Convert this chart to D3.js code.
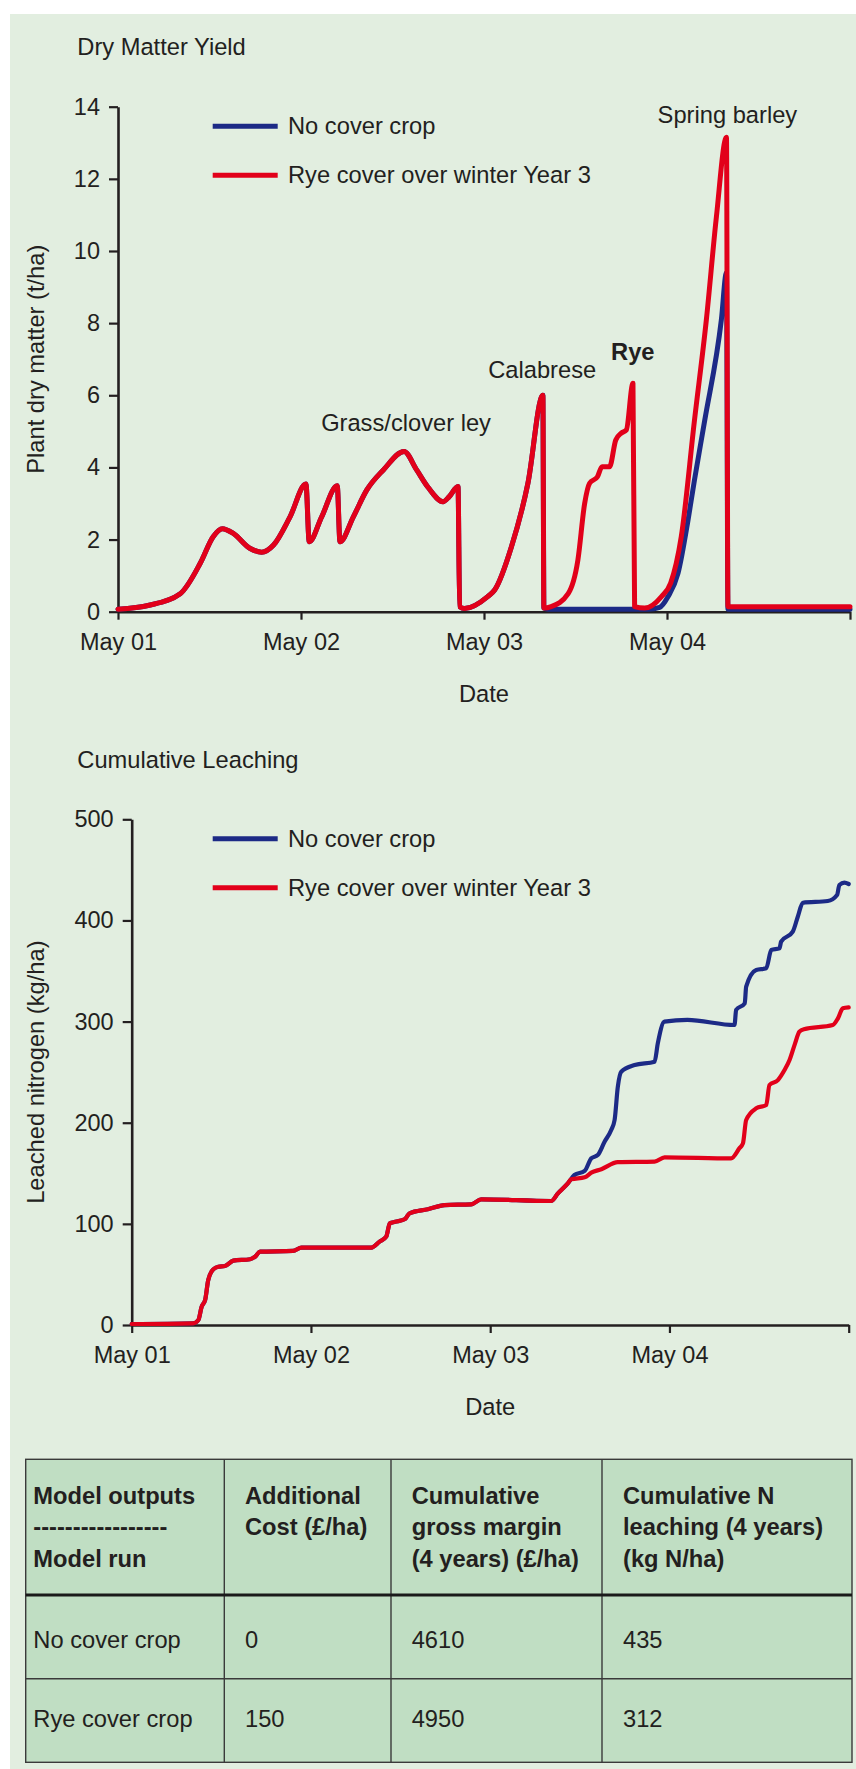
<!DOCTYPE html>
<html>
<head>
<meta charset="utf-8">
<script src="https://cdn.jsdelivr.net/npm/d3@7"></script>
<style>
    body { margin: 0; background: #fff; }
    svg text { font-family: "Liberation Sans", Arial, sans-serif; fill: #231f20; font-size: 23.7px; }
    .axis path, .axis line { stroke: #231f20; }
    .axis text { font-size: 23.5px; fill: #231f20; }
</style>
</head>
<body>
<div id="page"></div>
<script>
    // ---- data ----
    const xTickValues = [0, 1, 2, 3, 4];
    const xTickLabels = ["May 01", "May 02", "May 03", "May 04", ""];
    const seriesNames = ["No cover crop", "Rye cover over winter Year 3"];
    const seriesColors = ["#1c2a86", "#e2001a"];

    // dry matter yield (t/ha) as [years after May 01, value]
    const dmTicks = [0, 2, 4, 6, 8, 10, 12, 14];
    const dmShared = [
        [0, 0.07], [0.17, 0.18], [0.34, 0.5], [0.45, 1.35], [0.52, 2.08], [0.57, 2.3], [0.63, 2.17],
        [0.72, 1.76], [0.785, 1.65], [0.85, 1.85], [0.94, 2.63], [1.027, 3.54], [1.045, 1.94],
        [1.113, 2.63], [1.198, 3.49], [1.213, 1.94], [1.286, 2.63], [1.359, 3.37], [1.45, 3.93],
        [1.563, 4.44], [1.632, 3.93], [1.694, 3.45], [1.776, 3.05], [1.81, 3.19], [1.858, 3.47],
        [1.867, 0.14], [1.894, 0.09], [2.02, 0.42], [2.058, 0.6], [2.15, 1.8], [2.24, 3.56],
        [2.322, 6.0], [2.327, 0.1]
    ];
    const dmNoCoverTail = [
        [2.35, 0.07], [2.9, 0.07], [2.96, 0.12], [3.006, 0.42], [3.06, 1.06], [3.115, 2.54],
        [3.15, 3.65], [3.206, 5.3], [3.297, 8.09], [3.325, 9.4], [3.333, 0.07], [4.0, 0.07]
    ];
    const dmRyeTail = [
        [2.367, 0.14], [2.46, 0.5], [2.513, 1.43], [2.55, 3.0], [2.577, 3.56], [2.62, 3.74],
        [2.645, 4.02], [2.686, 4.02], [2.72, 4.76], [2.75, 4.95], [2.778, 5.04], [2.814, 6.33],
        [2.823, 0.14], [2.878, 0.1], [2.97, 0.42], [3.02, 0.79], [3.078, 2.08], [3.15, 5.3],
        [3.215, 8.09], [3.27, 10.95], [3.325, 13.15], [3.333, 0.14], [4.0, 0.14]
    ];
    const dmNoCover = dmShared.concat(dmNoCoverTail);
    const dmRye = dmShared.concat(dmRyeTail);
    const dmNotes = [
        {text: "Grass/clover ley", t: 1.574, v: 5.01, bold: false},
        {text: "Calabrese", t: 2.318, v: 6.47, bold: false},
        {text: "Rye", t: 2.813, v: 6.98, bold: true},
        {text: "Spring barley", t: 3.33, v: 13.56, bold: false}
    ];

    // cumulative leached nitrogen (kg/ha)
    const lchTicks = [0, 100, 200, 300, 400, 500];
    const lchShared = [
        [0, 1], [0.343, 1.7], [0.372, 5], [0.39, 18], [0.41, 25], [0.427, 44.5], [0.455, 55],
        [0.483, 57.6], [0.52, 58.3], [0.567, 63.6], [0.66, 65], [0.688, 67.5], [0.716, 72.5],
        [0.9, 73.2], [0.947, 76.5], [1.337, 76.5], [1.383, 82.4], [1.42, 87.3], [1.44, 100.5],
        [1.47, 102], [1.525, 104.8], [1.55, 110.4], [1.652, 114.4], [1.746, 118.6], [1.894, 119.3],
        [1.95, 124.3], [2.34, 122.6], [2.378, 130.2], [2.433, 140]
    ];
    const lchNoCoverTail = [
        [2.47, 148.3], [2.527, 152.3], [2.564, 164.8], [2.6, 168], [2.638, 181.2], [2.675, 192.8],
        [2.694, 202.7], [2.712, 235.6], [2.731, 250.4], [2.806, 257], [2.917, 260.3], [2.935, 278.5],
        [2.972, 299.9], [3.1, 301.6], [3.363, 296.6], [3.372, 311.5], [3.42, 318], [3.428, 334.5],
        [3.484, 351], [3.54, 352.7], [3.568, 370.8], [3.614, 372.5], [3.623, 379], [3.688, 388.9],
        [3.716, 403.7], [3.744, 417.5], [3.883, 419.2], [3.935, 425.2], [3.948, 435], [3.976, 437.3],
        [4.0, 436]
    ];
    const lchRyeTail = [
        [2.452, 144], [2.527, 146], [2.564, 150.6], [2.62, 154], [2.712, 161], [2.917, 161.5],
        [2.973, 165.8], [3.344, 164.8], [3.39, 174.7], [3.41, 179.6], [3.428, 202.7], [3.484, 214.2],
        [3.54, 217.5], [3.558, 237.3], [3.605, 242.2], [3.642, 252.1], [3.67, 262], [3.7, 278],
        [3.725, 290], [3.75, 292.5], [3.911, 296.6], [3.94, 303.2], [3.967, 313.1], [4.0, 314]
    ];
    const lchNoCover = lchShared.concat(lchNoCoverTail);
    const lchRye = lchShared.concat(lchRyeTail);

    // table
    const tableHeader = [
        ["Model outputs", "-----------------", "Model run"],
        ["Additional", "Cost (£/ha)"],
        ["Cumulative", "gross margin", "(4 years) (£/ha)"],
        ["Cumulative N", "leaching (4 years)", "(kg N/ha)"]
    ];
    const tableRows = [
        ["No cover crop", "0", "4610", "435"],
        ["Rye cover crop", "150", "4950", "312"]
    ];

    // ---- page ----
    let svg = d3.select("#page")
        .append("svg")
        .attr("width", 856)
        .attr("height", 1769);

    svg.append("rect")
        .attr("x", 10)
        .attr("y", 14)
        .attr("width", 846)
        .attr("height", 1755)
        .style("fill", "#e2eee0");

    function drawChart(c){
        let g = svg.append("g")
            .attr("transform", `translate(${c.left}, ${c.top})`);

        let x = d3.scaleLinear()
            .domain([0, 4])
            .range([0, c.width]);

        let y = d3.scaleLinear()
            .domain([0, c.yMax])
            .range([c.height, 0]);

        svg.append("text")
            .attr("x", 77.3)
            .attr("y", c.titleY)
            .text(c.title);

        // axes
        g.append("g")
            .attr("class", "axis")
            .attr("transform", `translate(0, ${c.height})`)
            .call(d3.axisBottom(x)
                .tickValues(xTickValues)
                .tickFormat((d, i) => xTickLabels[i])
                .tickSize(8)
                .tickSizeOuter(0)
                .tickPadding(13.5))
            .call(a => a.select(".domain").attr("stroke-width", 2.6))
            .call(a => a.selectAll(".tick line").attr("stroke-width", 2.2))
            .call(a => a.selectAll(".tick text").attr("font-family", null).attr("font-size", null));

        g.append("g")
            .attr("class", "axis")
            .call(d3.axisLeft(y)
                .tickValues(c.yTicks)
                .tickSize(9)
                .tickSizeOuter(0)
                .tickPadding(9))
            .call(a => a.select(".domain").attr("stroke-width", 2.6))
            .call(a => a.selectAll(".tick line").attr("stroke-width", 2.2))
            .call(a => a.selectAll(".tick text").attr("font-family", null).attr("font-size", null));

        // axis titles
        g.append("text")
            .attr("x", c.width / 2)
            .attr("y", c.height + 90)
            .attr("text-anchor", "middle")
            .text("Date");

        svg.append("text")
            .attr("transform", `translate(43.5, ${c.top + c.height / 2}) rotate(-90)`)
            .attr("text-anchor", "middle")
            .text(c.yLabel);

        // lines
        let line = d3.line()
            .x(d => x(d[0]))
            .y(d => y(d[1]))
            .curve(d3.curveMonotoneX);

        c.series.forEach((s, i) => {
            g.append("path")
                .datum(s)
                .attr("d", line)
                .style("fill", "none")
                .style("stroke", seriesColors[i])
                .style("stroke-width", c.strokeWidth)
                .style("stroke-linejoin", "round")
                .style("stroke-linecap", "round");
        });

        // legend
        seriesNames.forEach((name, i) => {
            let ly = c.top + 19.5 + i * 49;
            svg.append("line")
                .attr("x1", 212.7)
                .attr("x2", 277.7)
                .attr("y1", ly)
                .attr("y2", ly)
                .style("stroke", seriesColors[i])
                .style("stroke-width", 5);
            svg.append("text")
                .attr("x", 288)
                .attr("y", ly + 7.8)
                .text(name);
        });

        // crop labels
        g.selectAll(".note")
            .data(c.notes || [])
            .join("text")
            .attr("class", "note")
            .attr("x", d => x(d.t))
            .attr("y", d => y(d.v))
            .attr("text-anchor", "middle")
            .style("font-weight", d => d.bold ? "bold" : "normal")
            .text(d => d.text);
    }

    drawChart({
        left: 118, top: 106.7, width: 732, height: 505, yMax: 14, yTicks: dmTicks,
        title: "Dry Matter Yield", titleY: 54.5, yLabel: "Plant dry matter (t/ha)",
        series: [dmNoCover, dmRye], strokeWidth: 5, notes: dmNotes
    });

    drawChart({
        left: 131.7, top: 819.3, width: 717, height: 505.7, yMax: 500, yTicks: lchTicks,
        title: "Cumulative Leaching", titleY: 768.3, yLabel: "Leached nitrogen (kg/ha)",
        series: [lchNoCover, lchRye], strokeWidth: 4.2
    });

    // ---- table ----
    const colX = [25.7, 224.3, 391, 602, 852];
    const rowY = [1459.3, 1595, 1678.7, 1762.3];
    const textPad = [7.6, 20.7, 20.7, 21];

    let table = svg.append("g");

    table.append("rect")
        .attr("x", colX[0])
        .attr("y", rowY[0])
        .attr("width", colX[4] - colX[0])
        .attr("height", rowY[3] - rowY[0])
        .style("fill", "#c0dec3")
        .style("stroke", "#3a3a3a")
        .style("stroke-width", 1.4);

    colX.slice(1, 4).forEach(cx => {
        table.append("line")
            .attr("x1", cx).attr("x2", cx)
            .attr("y1", rowY[0]).attr("y2", rowY[3])
            .style("stroke", "#3a3a3a")
            .style("stroke-width", 1.4);
    });

    table.append("line")
        .attr("x1", colX[0]).attr("x2", colX[4])
        .attr("y1", rowY[1]).attr("y2", rowY[1])
        .style("stroke", "#1a1a1a")
        .style("stroke-width", 3);

    table.append("line")
        .attr("x1", colX[0]).attr("x2", colX[4])
        .attr("y1", rowY[2]).attr("y2", rowY[2])
        .style("stroke", "#3a3a3a")
        .style("stroke-width", 1.4);

    tableHeader.forEach((lines, ci) => {
        lines.forEach((txt, li) => {
            table.append("text")
                .attr("x", colX[ci] + textPad[ci])
                .attr("y", 1503.5 + li * 31.6)
                .style("font-weight", "bold")
                .text(txt);
        });
    });

    tableRows.forEach((row, ri) => {
        row.forEach((txt, ci) => {
            table.append("text")
                .attr("x", colX[ci] + textPad[ci])
                .attr("y", rowY[ri + 1] + 52.5 - ri * 4.5)
                .text(txt);
        });
    });
</script>
</body>
</html>
